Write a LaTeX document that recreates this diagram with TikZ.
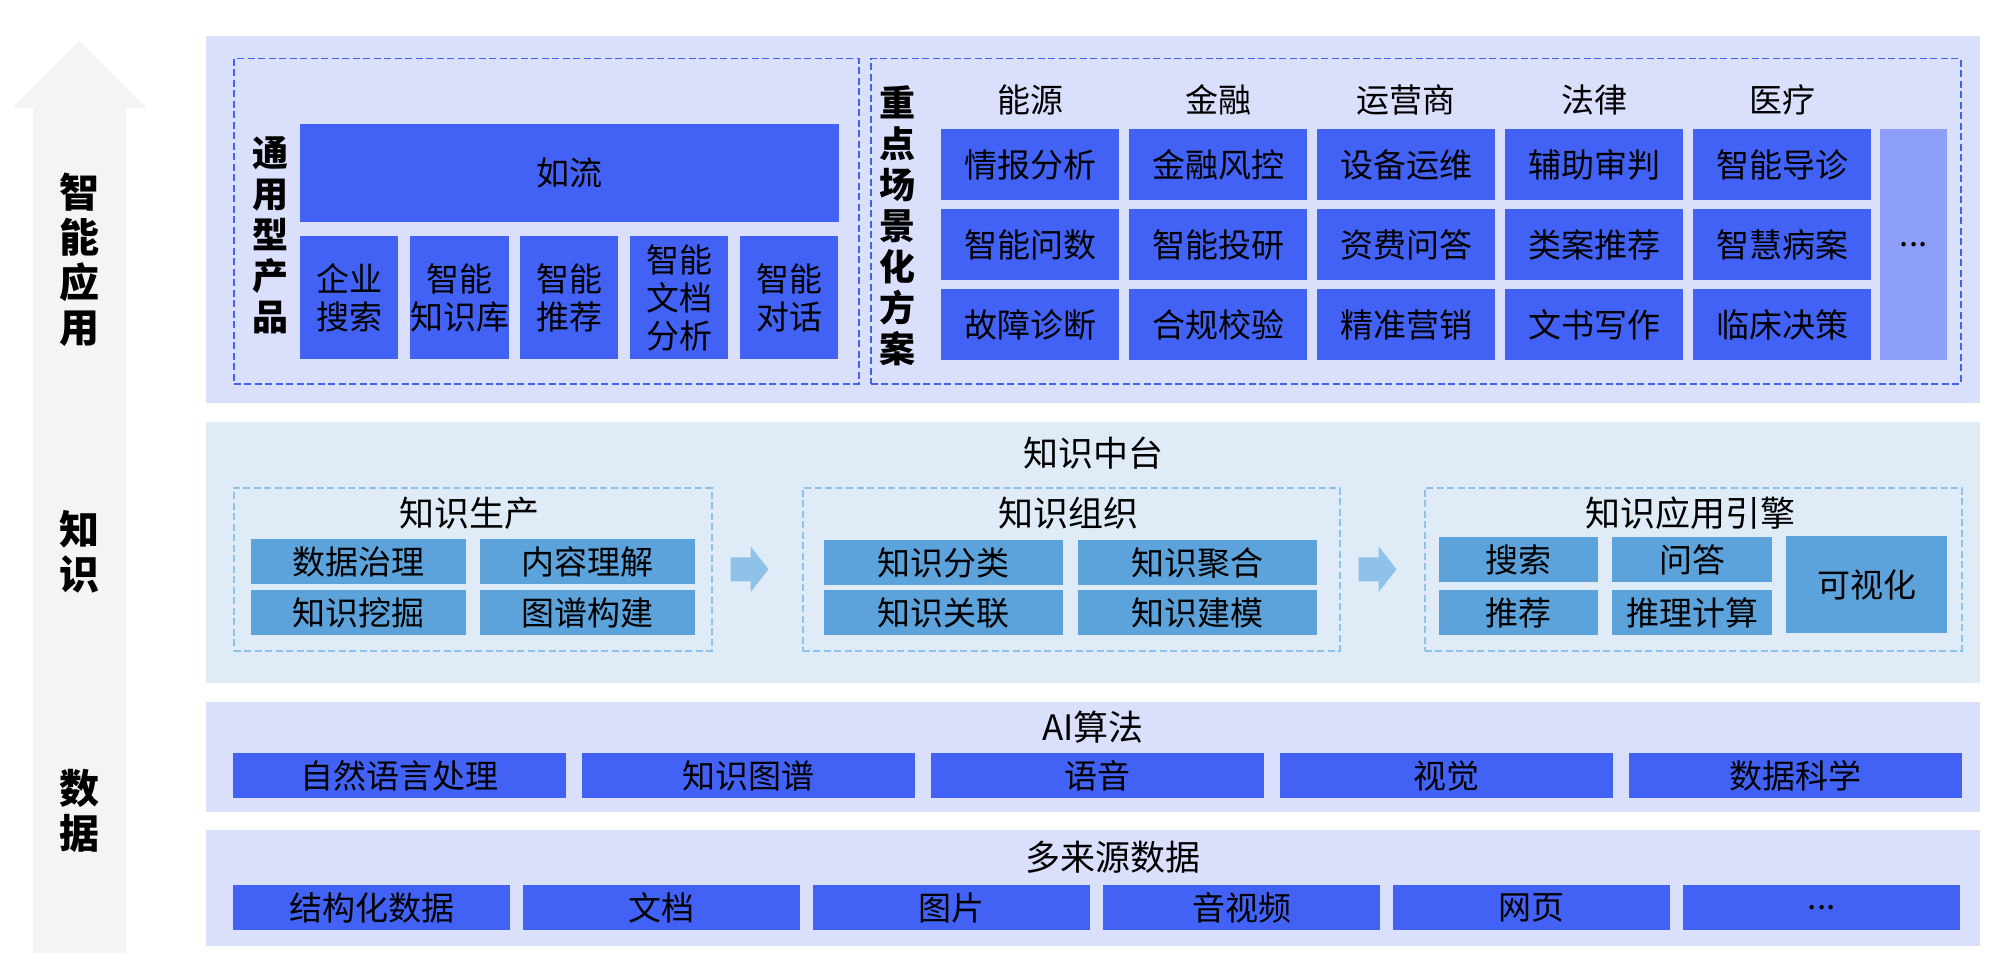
\documentclass[tikz,border=0pt]{standalone}
\usepackage{fontspec}
\usepackage{xcolor}
\usepackage{tikz}
\usetikzlibrary{positioning,calc}
\setmainfont{Noto Sans CJK SC}
\definecolor{stack}{HTML}{DADFFB}
\definecolor{tileblue}{HTML}{4262F5}
\definecolor{moretile}{HTML}{8C9EF7}
\definecolor{hubbg}{HTML}{DFECF7}
\definecolor{hubfill}{HTML}{5BA3DA}
\definecolor{hubline}{HTML}{8EC2E9}
\definecolor{axisgray}{HTML}{F4F4F4}
\newcommand{\flowarrow}[1]{%
  \fill[hubline] ($(#1)+(18,-12)$) -- ++(20,0) -- ++(0,-11) -- ++(18,23)
    -- ++(-18,23) -- ++(0,-11) -- ++(-20,0) -- cycle;}

\begin{document}
\begin{tikzpicture}[x=1pt,y=-1pt,
    every node/.style={inner sep=0pt,text=black},
    wh/.style 2 args={minimum width=#1pt,minimum height=#2pt},
    panel/.style={fill=#1,anchor=north west},
    frame/.style={draw=#1,line width=1.5pt,dash pattern=on 7pt off 3.5pt,anchor=north west},
    tile/.style={fill=tileblue,anchor=north west,align=center,font=\fontsize{33}{38}\selectfont},
    hubtile/.style={tile,fill=hubfill},
    caption/.style={font=\fontsize{35}{40}\selectfont},
    colhead/.style={font=\fontsize{33}{38}\selectfont},
    vlabel/.style={align=center,font=\bfseries\fontsize{36}{41}\selectfont},
    axislabel/.style={align=center,font=\bfseries\fontsize{40}{45}\selectfont}]
  \useasboundingbox (0,0) rectangle (1996,960);

  \fill[axisgray] (33,953) -- (33,108) -- (12,108) -- (79.5,41) -- (147,108)
    -- (126,108) -- (126,953) -- cycle;
  \node[axislabel] (lapp) at (79.5,260) {智\\能\\应\\用};
  \node[axislabel] (lknow) at (79.5,552) {知\\识};
  \node[axislabel] (ldata) at (79.5,811) {数\\据};

  \node[panel=stack, wh={1774}{367}] (app) at (206,36) {};
  \node[panel=hubbg, wh={1774}{261}] (hub) at (206,422) {};
  \node[panel=stack, wh={1774}{110}] (algo) at (206,702) {};
  \node[panel=stack, wh={1774}{116}] (src) at (206,830) {};

  % general products
  \node[frame=tileblue, wh={625}{325}] (general) at (233,58) {};
  \node[vlabel] (generalt) at (270,235) {通\\用\\型\\产\\品};
  \node[tile, wh={539}{98}] (ruliu) at (300,124) {如流};
  \node[tile, wh={98}{123}] (gsearch) at (300,236) {企业\\搜索};
  \node[tile, wh={98}{123}] (gkb) at (410,236) {智能\\知识库};
  \node[tile, wh={98}{123}] (grec) at (520,236) {智能\\推荐};
  \node[tile, wh={98}{123}] (gdoc) at (630,236) {智能\\文档\\分析};
  \node[tile, wh={98}{123}] (gchat) at (740,236) {智能\\对话};

  % scenario solutions
  \node[frame=tileblue, wh={1090}{325}] (scene) at (870,58) {};
  \node[vlabel] (scenet) at (897,226) {重\\点\\场\\景\\化\\方\\案};
  \node[colhead] (energy) at (1030,100) {能源};
  \node[colhead] (finance) at (1218,100) {金融};
  \node[colhead] (telecom) at (1406,100) {运营商};
  \node[colhead] (law) at (1594,100) {法律};
  \node[colhead] (medical) at (1782,100) {医疗};
  \node[tile, wh={178}{71}] (en1) at (941,129) {情报分析};
  \node[tile, wh={178}{71}] (en2) at (941,209) {智能问数};
  \node[tile, wh={178}{71}] (en3) at (941,289) {故障诊断};
  \node[tile, wh={178}{71}] (fi1) at (1129,129) {金融风控};
  \node[tile, wh={178}{71}] (fi2) at (1129,209) {智能投研};
  \node[tile, wh={178}{71}] (fi3) at (1129,289) {合规校验};
  \node[tile, wh={178}{71}] (te1) at (1317,129) {设备运维};
  \node[tile, wh={178}{71}] (te2) at (1317,209) {资费问答};
  \node[tile, wh={178}{71}] (te3) at (1317,289) {精准营销};
  \node[tile, wh={178}{71}] (la1) at (1505,129) {辅助审判};
  \node[tile, wh={178}{71}] (la2) at (1505,209) {类案推荐};
  \node[tile, wh={178}{71}] (la3) at (1505,289) {文书写作};
  \node[tile, wh={178}{71}] (me1) at (1693,129) {智能导诊};
  \node[tile, wh={178}{71}] (me2) at (1693,209) {智慧病案};
  \node[tile, wh={178}{71}] (me3) at (1693,289) {临床决策};
  \node[tile, fill=moretile, wh={67}{231}] (more) at (1880,129) {...};

  % knowledge hub
  \node[caption] (hubt) at (1093,453) {知识中台};
  \node[frame=hubline, wh={478}{163}] (prod) at (233,487) {};
  \node[frame=hubline, wh={537}{163}] (org) at (802,487) {};
  \node[frame=hubline, wh={537}{163}] (eng) at (1424,487) {};
  \node[caption] (prodt) at (469,513) {知识生产};
  \node[caption] (orgt) at (1068,513) {知识组织};
  \node[caption] (engt) at (1690,513) {知识应用引擎};
  \node[hubtile, wh={215}{45}] (govern) at (251,539) {数据治理};
  \node[hubtile, wh={215}{45}] (understand) at (480,539) {内容理解};
  \node[hubtile, wh={215}{45}] (mine) at (251,590) {知识挖掘};
  \node[hubtile, wh={215}{45}] (graph) at (480,590) {图谱构建};
  \node[hubtile, wh={239}{45}] (classify) at (824,540) {知识分类};
  \node[hubtile, wh={239}{45}] (aggregate) at (1078,540) {知识聚合};
  \node[hubtile, wh={239}{45}] (link) at (824,590) {知识关联};
  \node[hubtile, wh={239}{45}] (model) at (1078,590) {知识建模};
  \node[hubtile, wh={159}{45}] (esearch) at (1439,537) {搜索};
  \node[hubtile, wh={160}{45}] (qa) at (1612,537) {问答};
  \node[hubtile, wh={159}{45}] (erec) at (1439,590) {推荐};
  \node[hubtile, wh={160}{45}] (reason) at (1612,590) {推理计算};
  \node[hubtile, wh={161}{97}] (visual) at (1786,536) {可视化};
  \flowarrow{prod.east}
  \flowarrow{org.east}

  % algorithms
  \node[caption] (algot) at (1093,727) {AI算法};
  \node[tile, wh={333}{45}] (nlp) at (233,753) {自然语言处理};
  \node[tile, wh={333}{45}] (kg) at (582,753) {知识图谱};
  \node[tile, wh={333}{45}] (speech) at (931,753) {语音};
  \node[tile, wh={333}{45}] (vision) at (1280,753) {视觉};
  \node[tile, wh={333}{45}] (dsci) at (1629,753) {数据科学};

  % data sources
  \node[caption] (srct) at (1113,857) {多来源数据};
  \node[tile, wh={277}{45}] (struct) at (233,885) {结构化数据};
  \node[tile, wh={277}{45}] (docs) at (523,885) {文档};
  \node[tile, wh={277}{45}] (images) at (813,885) {图片};
  \node[tile, wh={277}{45}] (av) at (1103,885) {音视频};
  \node[tile, wh={277}{45}] (web) at (1393,885) {网页};
  \node[tile, wh={277}{45}] (etc) at (1683,885) {...};
\end{tikzpicture}
\end{document}
